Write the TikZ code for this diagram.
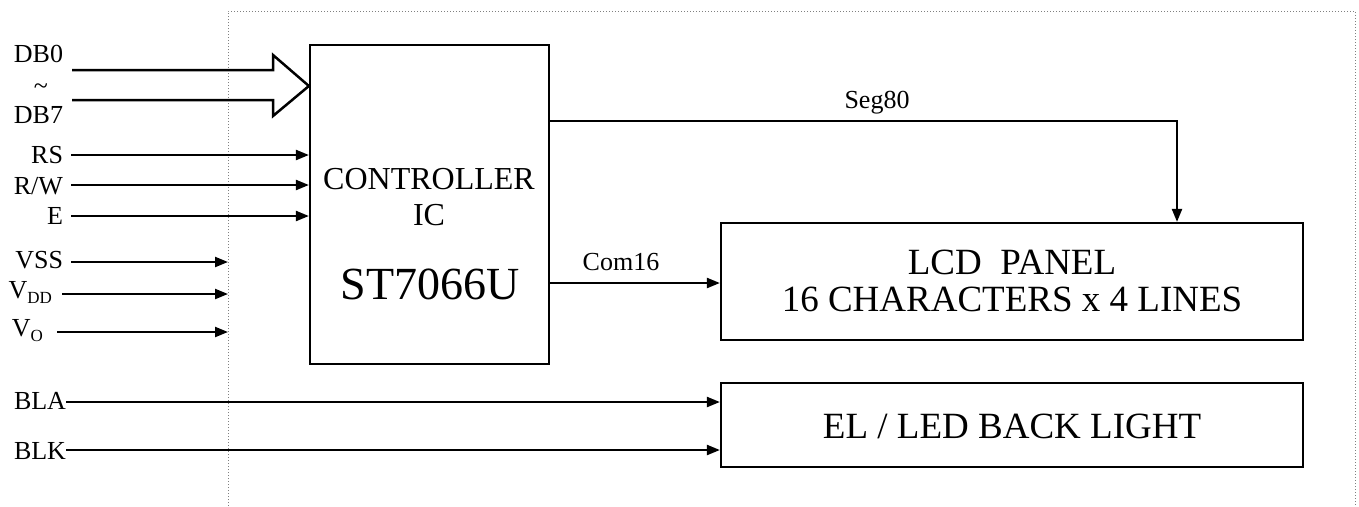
\documentclass[tikz,border=0pt]{standalone}
\usepackage{fontspec}
\setmainfont{Liberation Serif}
\usetikzlibrary{arrows.meta}
\newcommand\fsz[1]{\fontsize{#1}{#1}\selectfont}
\tikzset{
  box/.style={draw, line width=2.2pt, inner sep=0pt},
  sig/.style={line width=2.2pt, -{Triangle[length=13pt,width=10pt]}},
  lbl/.style={font=\fsz{26}, inner sep=0pt, outer xsep=8pt, text depth=0pt, text height=16pt, anchor=east},
  txt/.style={inner sep=0pt, anchor=base},
  frame/.style={draw=gray, line width=1pt, dotted},
}
\begin{document}
\begin{tikzpicture}[x=1pt,y=-1pt]
\useasboundingbox (0,0) rectangle (1359,506);
% dotted frame (open at bottom)
\coordinate (fl) at (228,11);
\coordinate (fr) at (1355,11);
\draw[frame] (228,506) -- (fl) -- (fr) -- (1355,506);

% blocks
\node[box, minimum width=239pt, minimum height=319pt] (ctrl) at (429.5,204.5) {};
\node[box, minimum width=582pt, minimum height=117pt] (lcd) at (1012,281.5) {};
\node[box, minimum width=582pt, minimum height=84pt] (bl) at (1012,425) {};

% block texts
\node[txt, font=\fsz{32}] (t1) at (429,189) {CONTROLLER};
\node[txt, font=\fsz{32}] (t2) at (429,225) {IC};
\node[txt, font=\fsz{46}] (t3) at (430,299) {ST7066U};
\node[txt, font=\fsz{37}] (t4) at (1012,274) {LCD\ \ PANEL};
\node[txt, font=\fsz{37}] (t5) at (1012,311) {16 CHARACTERS x 4 LINES};
\node[txt, font=\fsz{37}] (t6) at (1012,438) {EL / LED BACK LIGHT};

% data bus
\node[txt, font=\fsz{26}] (db0) at (38.5,62) {DB0};
\node[inner sep=0pt, font=\fsz{26}] (tl) at (41,89) {\textasciitilde};
\node[txt, font=\fsz{26}] (db7) at (38.5,123) {DB7};
\draw[line width=2.5pt, line join=miter] (72,70) -- (273,70) -- (273,55) -- (ctrl.west |- 0,86) -- (273,116) -- (273,100) -- (72,100);

% control inputs
\node[lbl] (rs) at (71,155) {RS};
\node[lbl, text height=18pt] (rw) at (71,185) {R/W};
\node[lbl] (e) at (71,216) {E};
\draw[sig] (rs) -- (rs -| ctrl.west);
\draw[sig] (rw) -- (rw -| ctrl.west);
\draw[sig] (e) -- (e -| ctrl.west);

% power inputs
\node[lbl, text height=12pt] (vss) at (71,262) {VSS};
\node[lbl, text height=8pt, outer xsep=10pt] (vdd) at (62,294) {V\raisebox{-0.2em}{\fsz{17}DD}};
\node[lbl, text height=8pt, outer xsep=14pt] (vo) at (57,332) {V\raisebox{-0.2em}{\fsz{17}O}};
\draw[sig] (vss) -- (vss -| fl);
\draw[sig] (vdd) -- (vdd -| fl);
\draw[sig] (vo) -- (vo -| fl);

% backlight
\node[lbl, text height=14pt, outer xsep=0pt] (bla) at (66,402) {BLA};
\node[lbl, text height=18pt, outer xsep=0pt] (blk) at (66,450) {BLK};
\draw[sig] (bla) -- (bla -| bl.west);
\draw[sig] (blk) -- (blk -| bl.west);

% seg / com
\coordinate (segc) at (1177,121);
\coordinate (comy) at (0,283);
\draw[sig] (segc -| ctrl.east) -- (segc) -- (segc |- lcd.north);
\node[txt, font=\fsz{26}] (seg) at (877,108) {Seg80};
\draw[sig] (comy -| ctrl.east) -- (comy -| lcd.west);
\node[txt, font=\fsz{26}] (com) at (621,270) {Com16};
\end{tikzpicture}
\end{document}
